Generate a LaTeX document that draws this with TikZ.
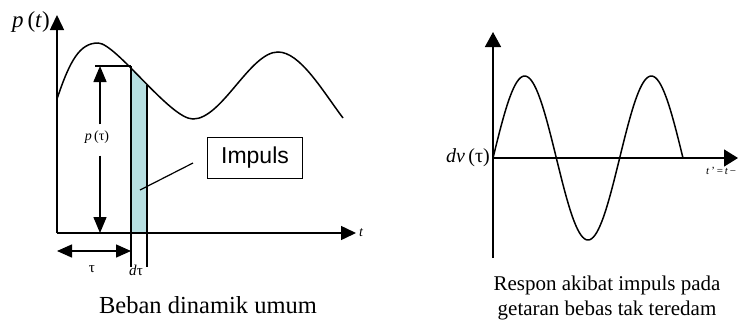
\documentclass[tikz,border=0pt]{standalone}
\usepackage{fontspec}
\setmainfont{Liberation Serif}
\newfontfamily\arialfont{Liberation Sans}
\usetikzlibrary{arrows.meta}
\definecolor{stripcol}{RGB}{183,223,225}
\tikzset{
  axisline/.style={line width=1.5pt,-{Triangle[width=14pt,length=15pt]}},
  dimarrow/.style={line width=1.5pt,{Triangle[width=13pt,length=15pt]}-{Triangle[width=13pt,length=15pt]}},
  thinline/.style={line width=1.5pt},
  lbl/.style={inner sep=0pt,font=\fontsize{15}{15}\selectfont},
  caption/.style={inner sep=0pt,align=center,font=\fontsize{24.5}{25}\selectfont},
}
\begin{document}
\begin{tikzpicture}[x=1pt,y=-1pt]
\useasboundingbox (0,0) rectangle (744,322);
% ---------------- left panel ----------------
\def\loadcurve{(57,99) .. controls (70,60) and (80,43) .. (98,43) .. controls (116,43) and (170,119) .. (193,119) .. controls (222,119) and (250,52) .. (278,52) .. controls (300,52) and (322,90) .. (343,118)}
\coordinate (o1) at (57,233);
\coordinate (ytop1) at (57,15);
\coordinate (xend1) at (356,233);
\begin{scope}
  \clip \loadcurve -- (343,233) -- (57,233) -- cycle;
  \fill[stripcol] (131,0) rectangle (147,233);
\end{scope}
\draw[line width=1.5pt] \loadcurve;
\draw[axisline] (o1) -- (ytop1);
\draw[axisline] (o1) -- (xend1);
\node[lbl,anchor=west,font=\fontsize{14}{14}\selectfont\itshape] (tl) at (359,233) {t};
\node[inner sep=0pt,font=\fontsize{23}{23}\selectfont] (pt) at (31,22) {\textit{p}\,(\textit{t})};
% p(tau) dimension
\coordinate (ptop) at (95,66);
\coordinate (pcross) at (131,66);
\draw[thinline] (ptop) -- (pcross);
\node[lbl,font=\fontsize{14}{14}\selectfont] (ptau) at (97,137) {\textit{p}\,(τ)};
\coordinate (pa1) at (100,66);
\coordinate (pa2) at (100,233);
\draw[line width=1.5pt,-{Triangle[width=13pt,length=16pt]}] (ptau.north) ++(3,-6) coordinate (pm1) -- (pa1);
\draw[line width=1.5pt,-{Triangle[width=13pt,length=16pt]}] (ptau.south) ++(3,12) coordinate (pm2) -- (pa2);
% strip edges
\coordinate (s1t) at (131,66);
\coordinate (s1b) at (131,267);
\coordinate (s2t) at (147,85);
\coordinate (s2b) at (147,267);
\draw[thinline] (s1t) -- (s1b);
\draw[thinline] (s2t) -- (s2b);
% tau dimension
\coordinate (ta1) at (57,251);
\coordinate (ta2) at (131,251);
\draw[dimarrow] (ta1) -- (ta2);
\node[lbl] (tau) at (92,269) {τ};
\node[lbl] (dtau) at (136,270) {\textit{d}τ};
% impulse box
\node[draw,line width=1.2pt,minimum width=95pt,minimum height=41pt,inner sep=0pt,font=\arialfont\fontsize{23}{23}\selectfont] (imp) at (255,158) {Impuls};
\coordinate (impend) at (140,190);
\draw[line width=1.2pt] (193,163) -- (impend);
\node[caption,anchor=base] (cap1) at (208,313) {Beban dinamik umum};
% ---------------- right panel ----------------
\coordinate (o2) at (493,158);
\coordinate (ybot2) at (493,258);
\coordinate (ytop2) at (493,32);
\coordinate (xend2) at (738,158);
\draw[axisline,-{Triangle[width=16pt,length=15pt]}] (ybot2) -- (ytop2);
\draw[axisline,-{Triangle[width=17pt,length=14pt]}] (o2) -- (xend2);
\draw[line width=1.5pt] plot[domain=0:190,samples=120] ({493+\x},{158-82*sin(\x*2.8423)});
\node[inner sep=0pt,anchor=east,font=\fontsize{20}{20}\selectfont] (dv) at (490,158) {\textit{dv}\,(τ)};
\node[inner sep=0pt,anchor=west,font=\fontsize{11}{11}\selectfont] (tp) at (706,171) {\textit{t}\,'\,=\,\textit{t}\,−};
\node[caption,font=\fontsize{21}{25}\selectfont] (cap2) at (607,298) {Respon akibat impuls pada\\getaran bebas tak teredam};
\end{tikzpicture}
\end{document}
